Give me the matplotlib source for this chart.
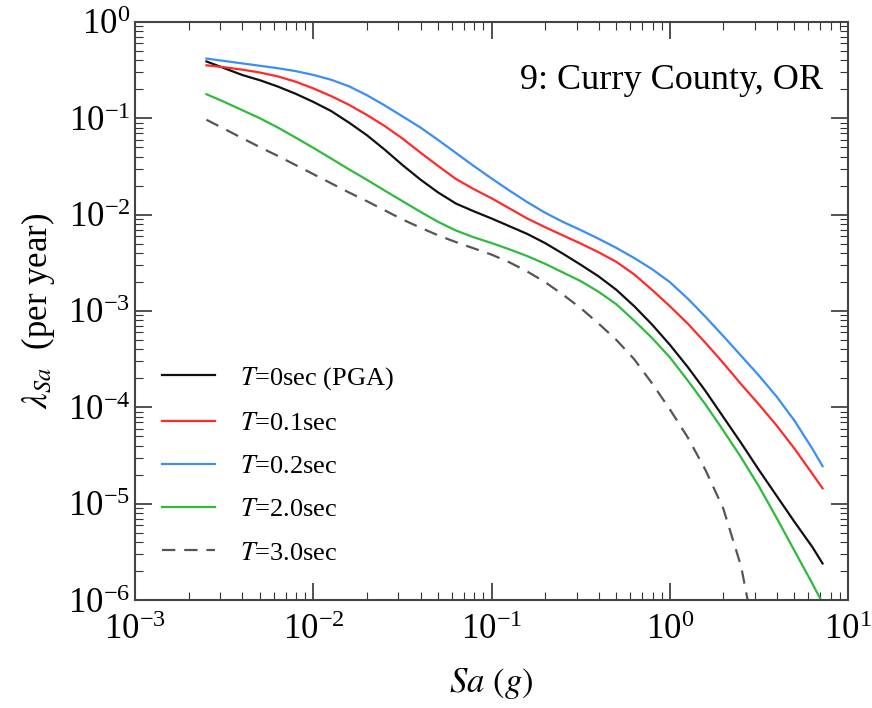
import numpy as np
import matplotlib
matplotlib.use("Agg")
import matplotlib.pyplot as plt

plt.rcParams['font.family'] = ['Liberation Serif', 'DejaVu Serif']
plt.rcParams['mathtext.fontset'] = 'stix'

# log10 of spectral acceleration Sa (g)
log_sa = [-2.6, -2.5, -2.4, -2.3, -2.2, -2.1, -2.0, -1.9, -1.8, -1.7, -1.6, -1.5,
          -1.4, -1.3, -1.2, -1.1, -1.0, -0.9, -0.8, -0.7, -0.6, -0.5, -0.4, -0.3,
          -0.2, -0.1, 0.0, 0.1, 0.2, 0.3, 0.4, 0.5, 0.6, 0.7, 0.8, 0.857]

# log10 of annual exceedance rate
log_t00 = [-0.41, -0.48, -0.55, -0.605, -0.67, -0.745, -0.83, -0.925, -1.045, -1.175, -1.325, -1.485,
           -1.635, -1.77, -1.885, -1.965, -2.04, -2.12, -2.20, -2.295, -2.405, -2.52, -2.64, -2.78,
           -2.95, -3.14, -3.35, -3.58, -3.83, -4.10, -4.37, -4.65, -4.92, -5.19, -5.45, -5.62]
log_t01 = [-0.45, -0.47, -0.495, -0.525, -0.565, -0.62, -0.69, -0.77, -0.86, -0.965, -1.08, -1.21,
           -1.355, -1.495, -1.63, -1.735, -1.83, -1.935, -2.04, -2.13, -2.215, -2.30, -2.39, -2.49,
           -2.62, -2.78, -2.95, -3.13, -3.33, -3.54, -3.76, -3.97, -4.19, -4.43, -4.69, -4.84]
log_t02 = [-0.38, -0.405, -0.43, -0.455, -0.48, -0.51, -0.55, -0.60, -0.668, -0.76, -0.866, -0.98,
           -1.095, -1.225, -1.36, -1.495, -1.625, -1.75, -1.87, -1.98, -2.075, -2.16, -2.25, -2.345,
           -2.45, -2.565, -2.70, -2.87, -3.06, -3.26, -3.465, -3.67, -3.89, -4.14, -4.43, -4.61]
log_t20 = [-0.75, -0.83, -0.915, -1.00, -1.095, -1.20, -1.307, -1.418, -1.53, -1.638, -1.75, -1.86,
           -1.97, -2.075, -2.165, -2.235, -2.295, -2.36, -2.43, -2.51, -2.60, -2.69, -2.80, -2.93,
           -3.10, -3.28, -3.48, -3.72, -3.97, -4.24, -4.52, -4.82, -5.15, -5.49, -5.83, -6.03]
log_t30 = [-1.015, -1.11, -1.205, -1.30, -1.39, -1.485, -1.58, -1.675, -1.77, -1.86, -1.955, -2.05,
           -2.135, -2.215, -2.285, -2.35, -2.415, -2.495, -2.59, -2.70, -2.83, -2.97, -3.13, -3.30,
           -3.50, -3.75, -4.02, -4.31, -4.65, -5.05, -5.65, -6.6]

labels = ['$T$=0sec (PGA)', '$T$=0.1sec', '$T$=0.2sec', '$T$=2.0sec', '$T$=3.0sec']
curves = [log_t00, log_t01, log_t02, log_t20, log_t30]
colors = ['#111111', '#ff2a2a', '#3a8ef5', '#2ebb3c', '#555555']
styles = ['-', '-', '-', '-', (0, (6, 4))]

sa = 10.0 ** np.array(log_sa)

fig = plt.figure(figsize=(8.72, 7.08), dpi=100)
ax = fig.add_axes([0.155, 0.1525, 0.8175, 0.8165])

for lg, c, ls, lab in zip(curves, colors, styles, labels):
    ax.plot(sa[:len(lg)], 10.0 ** np.array(lg), color=c, linestyle=ls, lw=1.6, label=lab)

ax.set_xscale('log')
ax.set_yscale('log')
ax.set_xlim(1e-3, 1e1)
ax.set_ylim(1e-6, 1e0)

ax.tick_params(which='both', direction='in', top=True, right=True, labelsize=25,
               color='#333333')
ax.tick_params(which='major', length=12, width=1.2)
ax.tick_params(which='minor', length=6, width=0.8)
ax.tick_params(axis='x', pad=10)
for s in ax.spines.values():
    s.set_linewidth(1.5)
    s.set_color('#444444')

ax.set_xlabel('$Sa$ $(g)$', fontsize=25, labelpad=14)
ax.set_ylabel(r'$\lambda_{Sa}$  (per year)', fontsize=25, labelpad=8)

ax.text(0.965, 0.898, '9: Curry County, OR', transform=ax.transAxes,
        ha='right', va='center', fontsize=26)

ax.legend(loc='lower left', bbox_to_anchor=(0.005, 0.02), frameon=False,
          fontsize=19, handlelength=2.0, labelspacing=0.75, handletextpad=0.95)

fig.savefig('out.png', dpi=100)
